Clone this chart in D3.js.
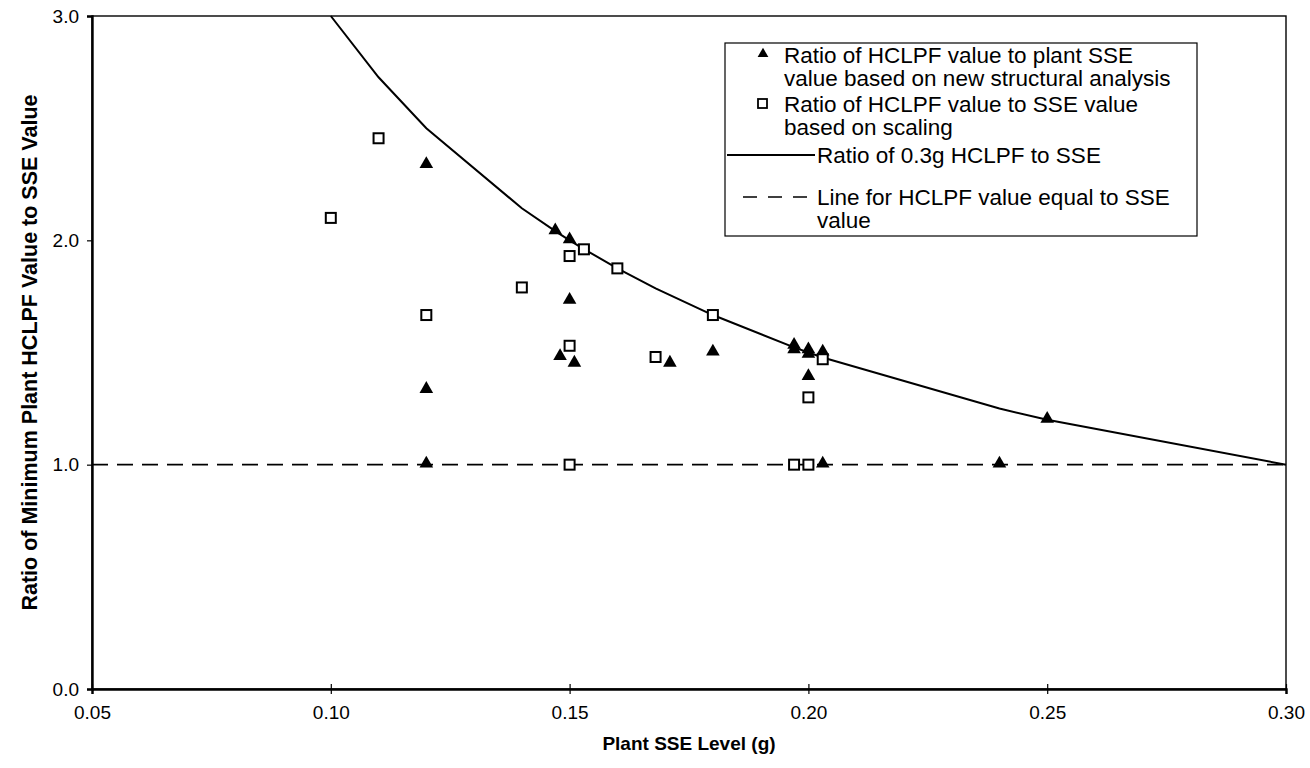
<!DOCTYPE html>
<meta charset="utf-8">
<style>
	body { margin: 0; background: #fff; }
	text { font-family: "Liberation Sans", Arial, sans-serif; fill: #000; }
</style>
<body>
	<div id="chart"></div>
</body>
<script src="https://cdn.jsdelivr.net/npm/d3@7"></script>
<script>
	const width = 1310,
	    height = 768,
	    margin = {top: 16, right: 24, bottom: 79, left: 92};

	// x ticks and y ticks
	const xTicks = [0.05, 0.10, 0.15, 0.20, 0.25, 0.30],
	    yTicks = [0, 1, 2, 3];

	// filled triangles: new structural analysis
	const triX = [0.120, 0.120, 0.120, 0.147, 0.150, 0.150, 0.148, 0.151, 0.171, 0.180,
	    0.197, 0.197, 0.200, 0.200, 0.200, 0.203, 0.203, 0.240, 0.250];
	const triY = [2.335, 1.333, 1.0, 2.04, 2.0, 1.73, 1.48, 1.45, 1.45, 1.50,
	    1.53, 1.51, 1.51, 1.49, 1.39, 1.50, 1.0, 1.0, 1.2];

	// open squares: scaling
	const sqX = [0.100, 0.110, 0.120, 0.140, 0.150, 0.153, 0.160, 0.150, 0.150, 0.168,
	    0.180, 0.200, 0.203, 0.197, 0.200];
	const sqY = [2.10, 2.455, 1.667, 1.79, 1.93, 1.96, 1.875, 1.53, 1.0, 1.48,
	    1.667, 1.30, 1.47, 1.0, 1.0];

	// ratio of 0.3g HCLPF to SSE
	const curveX = [0.100, 0.110, 0.120, 0.140, 0.147, 0.150, 0.153, 0.160, 0.168, 0.180,
	    0.197, 0.200, 0.203, 0.240, 0.250, 0.300];
	const curveY = [3.0, 2.727, 2.5, 2.143, 2.041, 2.0, 1.961, 1.875, 1.786, 1.667,
	    1.523, 1.5, 1.478, 1.25, 1.2, 1.0];

	// HCLPF equal to SSE
	const equalX = [0.05, 0.30],
	    equalY = [1.0, 1.0];

	const legendLabels = [
	    ["Ratio of HCLPF value to plant SSE", "value based on new structural analysis"],
	    ["Ratio of HCLPF value to SSE value", "based on scaling"],
	    ["Ratio of 0.3g HCLPF to SSE"],
	    ["Line for HCLPF value equal to SSE", "value"]
	];

	const svg = d3.select("#chart").append("svg")
	    .attr("width", width)
	    .attr("height", height);

	const x = d3.scaleLinear().domain([0.05, 0.30]).range([margin.left, width - margin.right]);
	const y = d3.scaleLinear().domain([0, 3]).range([height - margin.bottom, margin.top]);

	// thin frame round the plot
	svg.append("rect")
	    .attr("x", x(0.05))
	    .attr("y", y(3))
	    .attr("width", x(0.30) - x(0.05))
	    .attr("height", y(0) - y(3))
	    .style("fill", "none")
	    .style("stroke", "#000")
	    .style("stroke-width", 1.4);

	// x axis
	const xAxis = svg.append("g")
	    .attr("transform", "translate(0," + y(0) + ")")
	    .call(d3.axisBottom(x).tickValues(xTicks).tickFormat(d3.format(".2f")).tickSize(5).tickPadding(12))
	    .attr("font-size", 19)
	    .attr("font-family", "Liberation Sans, Arial");
	xAxis.select(".domain").style("stroke-width", 2.4);
	xAxis.selectAll(".tick line").attr("y1", -5).style("stroke-width", 1.2);

	// y axis
	const yAxis = svg.append("g")
	    .attr("transform", "translate(" + x(0.05) + ",0)")
	    .call(d3.axisLeft(y).tickValues(yTicks).tickFormat(d3.format(".1f")).tickSize(5).tickPadding(8))
	    .attr("font-size", 19)
	    .attr("font-family", "Liberation Sans, Arial");
	yAxis.select(".domain").style("stroke-width", 2.4);
	yAxis.selectAll(".tick line").style("stroke-width", 1.2);

	// axis titles
	svg.append("text")
	    .attr("x", (x(0.05) + x(0.30)) / 2)
	    .attr("y", 750)
	    .attr("text-anchor", "middle")
	    .style("font-weight", "bold")
	    .style("font-size", "19px")
	    .text("Plant SSE Level (g)");

	svg.append("text")
	    .attr("transform", "translate(37," + ((y(0) + y(3)) / 2) + ") rotate(-90)")
	    .attr("text-anchor", "middle")
	    .style("font-weight", "bold")
	    .style("font-size", "21.5px")
	    .text("Ratio of Minimum Plant HCLPF Value to SSE Value");

	const line = d3.line()
	    .x(d => x(d[0]))
	    .y(d => y(d[1]));

	const plot = svg.append("g");

	plot.append("path")
	    .datum(d3.zip(equalX, equalY))
	    .attr("d", line)
	    .style("fill", "none")
	    .style("stroke", "#000")
	    .style("stroke-width", 1.6)
	    .style("stroke-dasharray", "16,9");

	plot.append("path")
	    .datum(d3.zip(curveX, curveY))
	    .attr("d", line)
	    .style("fill", "none")
	    .style("stroke", "#000")
	    .style("stroke-width", 2);

	const triangle = d3.symbol().type(d3.symbolTriangle).size(80);

	plot.selectAll(".tri")
	    .data(d3.zip(triX, triY))
	    .enter().append("path")
	    .attr("class", "tri")
	    .attr("d", triangle)
	    .attr("transform", d => "translate(" + x(d[0]) + "," + (y(d[1]) - 1) + ")")
	    .style("fill", "#000");

	plot.selectAll(".sq")
	    .data(d3.zip(sqX, sqY))
	    .enter().append("rect")
	    .attr("class", "sq")
	    .attr("x", d => x(d[0]) - 5)
	    .attr("y", d => y(d[1]) - 5)
	    .attr("width", 10)
	    .attr("height", 10)
	    .style("fill", "#fff")
	    .style("stroke", "#000")
	    .style("stroke-width", 2);

	// legend
	const legend = svg.append("g")
	    .attr("transform", "translate(725,43)");

	legend.append("rect")
	    .attr("width", 472)
	    .attr("height", 193)
	    .style("fill", "#fff")
	    .style("stroke", "#000")
	    .style("stroke-width", 1.2);

	const rowY = [12, 61, 112, 154],
	    textX = [59, 59, 92, 92],
	    lineH = 23;

	legendLabels.forEach(function(lines, i) {
	    const t = legend.append("text")
	        .attr("transform", "translate(" + textX[i] + "," + rowY[i] + ")")
	        .style("font-size", "22.5px");
	    lines.forEach(function(s, j) {
	        t.append("tspan")
	            .attr("x", 0)
	            .attr("y", j * lineH)
	            .attr("dy", "0.35em")
	            .text(s);
	    });
	});

	legend.append("path")
	    .attr("d", d3.symbol().type(d3.symbolTriangle).size(50))
	    .attr("transform", "translate(38," + (rowY[0] - 1) + ")")
	    .style("fill", "#000");

	legend.append("rect")
	    .attr("x", 33)
	    .attr("y", rowY[1] - 5)
	    .attr("width", 9)
	    .attr("height", 9)
	    .style("fill", "#fff")
	    .style("stroke", "#000")
	    .style("stroke-width", 1.8);

	legend.append("line")
	    .attr("x1", 2).attr("x2", 90)
	    .attr("y1", rowY[2]).attr("y2", rowY[2])
	    .style("stroke", "#000")
	    .style("stroke-width", 1.8);

	legend.append("line")
	    .attr("x1", 18).attr("x2", 82)
	    .attr("y1", rowY[3]).attr("y2", rowY[3])
	    .style("stroke", "#000")
	    .style("stroke-width", 1.6)
	    .style("stroke-dasharray", "14,11");
</script>
